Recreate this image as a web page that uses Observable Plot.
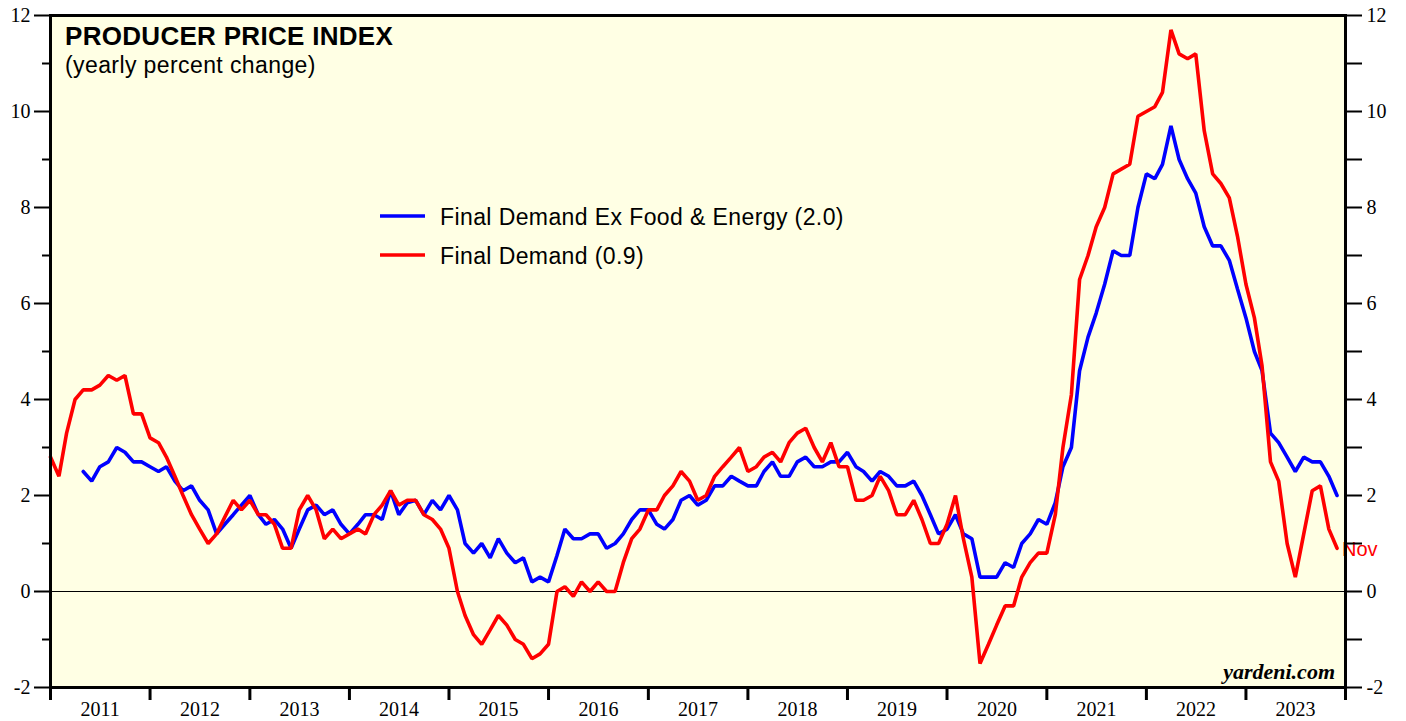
<!DOCTYPE html>
<html><head><meta charset="utf-8">
<script src="https://cdn.jsdelivr.net/npm/d3@7"></script>
<script src="https://cdn.jsdelivr.net/npm/@observablehq/plot@0.6"></script>
<style>body{margin:0;background:#fff;} #chart svg{display:block;}</style>
</head><body><div id="chart"></div>
<script>
// ---- data (yearly percent change, monthly) ----
const finalDemandStart = [2010, 12]; // first month of Final Demand series
const finalDemand = [
  2.8,
  2.4, 3.3, 4.0, 4.2, 4.2, 4.3, 4.5, 4.4, 4.5, 3.7, 3.7, 3.2,
  3.1, 2.8, 2.4, 2.0, 1.6, 1.3, 1.0, 1.2, 1.55, 1.9, 1.7, 1.9,
  1.6, 1.6, 1.4, 0.9, 0.9, 1.7, 2.0, 1.7, 1.1, 1.3, 1.1, 1.2,
  1.3, 1.2, 1.6, 1.8, 2.1, 1.8, 1.9, 1.9, 1.6, 1.5, 1.3, 0.9,
  0.0, -0.5, -0.9, -1.1, -0.8, -0.5, -0.7, -1.0, -1.1, -1.4, -1.3, -1.1,
  0.0, 0.1, -0.1, 0.2, 0.0, 0.2, 0.0, 0.0, 0.6, 1.1, 1.3, 1.7,
  1.7, 2.0, 2.2, 2.5, 2.3, 1.9, 2.0, 2.4, 2.6, 2.8, 3.0, 2.5,
  2.6, 2.8, 2.9, 2.7, 3.1, 3.3, 3.4, 3.0, 2.7, 3.1, 2.6, 2.6,
  1.9, 1.9, 2.0, 2.4, 2.1, 1.6, 1.6, 1.9, 1.5, 1.0, 1.0, 1.4,
  2.0, 1.1, 0.3, -1.5, -1.1, -0.7, -0.3, -0.3, 0.3, 0.6, 0.8, 0.8,
  1.6, 3.0, 4.1, 6.5, 7.0, 7.6, 8.0, 8.7, 8.8, 8.9, 9.9, 10.0,
  10.1, 10.4, 11.7, 11.2, 11.1, 11.2, 9.6, 8.7, 8.5, 8.2, 7.4, 6.4,
  5.7, 4.7, 2.7, 2.3, 1.0, 0.3, 1.2, 2.1, 2.2, 1.3, 0.9
];
const coreStart = [2011, 4]; // first month of Ex Food & Energy series
const finalDemandCore = [
  2.5, 2.3, 2.6, 2.7, 3.0, 2.9, 2.7, 2.7, 2.6,
  2.5, 2.6, 2.3, 2.1, 2.2, 1.9, 1.7, 1.2, 1.4, 1.6, 1.8, 2.0,
  1.6, 1.4, 1.5, 1.3, 0.9, 1.3, 1.7, 1.8, 1.6, 1.7, 1.4, 1.2,
  1.4, 1.6, 1.6, 1.5, 2.1, 1.6, 1.85, 1.9, 1.6, 1.9, 1.7, 2.0,
  1.7, 1.0, 0.8, 1.0, 0.7, 1.1, 0.8, 0.6, 0.7, 0.2, 0.3, 0.2,
  0.75, 1.3, 1.1, 1.1, 1.2, 1.2, 0.9, 1.0, 1.2, 1.5, 1.7, 1.7,
  1.4, 1.3, 1.5, 1.9, 2.0, 1.8, 1.9, 2.2, 2.2, 2.4, 2.3, 2.2,
  2.2, 2.5, 2.7, 2.4, 2.4, 2.7, 2.8, 2.6, 2.6, 2.7, 2.7, 2.9,
  2.6, 2.5, 2.3, 2.5, 2.4, 2.2, 2.2, 2.3, 2.0, 1.6, 1.2, 1.3,
  1.6, 1.2, 1.1, 0.3, 0.3, 0.3, 0.6, 0.5, 1.0, 1.2, 1.5, 1.4,
  1.85, 2.6, 3.0, 4.6, 5.3, 5.8, 6.4, 7.1, 7.0, 7.0, 8.0, 8.7,
  8.6, 8.9, 9.7, 9.0, 8.6, 8.3, 7.6, 7.2, 7.2, 6.9, 6.3, 5.7,
  5.0, 4.6, 3.3, 3.1, 2.8, 2.5, 2.8, 2.7, 2.7, 2.4, 2.0
];
const seriesNames = ["Final Demand Ex Food & Energy (2.0)", "Final Demand (0.9)"];
const seriesColors = ["#0000ff", "#ff0000"];
const years = [2011, 2012, 2013, 2014, 2015, 2016, 2017, 2018, 2019, 2020, 2021, 2022, 2023];
const yMajorTicks = [-2, 0, 2, 4, 6, 8, 10, 12];
const yMinorTicks = [-1, 1, 3, 5, 7, 9, 11];
const lastMonthLabel = "Nov";
const titleText = "PRODUCER PRICE INDEX";
const subtitleText = "(yearly percent change)";
const creditText = "yardeni.com";

// month-end dates (plotted at end of each month)
function toRows(start, values) {
  return values.map((v, i) => ({date: new Date(Date.UTC(start[0], start[1] - 1 + i + 1, 1)), value: v}));
}
const redRows = toRows(finalDemandStart, finalDemand);
const blueRows = toRows(coreStart, finalDemandCore);
const yearStarts = years.concat([years[years.length - 1] + 1]).map(y => new Date(Date.UTC(y, 0, 1)));
const yearMids = years.map(y => new Date(Date.UTC(y, 6, 2)));

const W = 1406, H = 721;
const chart = Plot.plot({
  width: W, height: H,
  marginLeft: 50, marginRight: 61, marginTop: 15, marginBottom: 34,
  style: {background: "white", fontFamily: "'Liberation Serif', 'Times New Roman', serif", fontSize: "20px", color: "black", overflow: "visible"},
  x: {type: "utc", domain: [yearStarts[0], yearStarts[yearStarts.length - 1]]},
  y: {domain: [-2, 12]},
  marks: [
    Plot.frame({fill: "#ffffe4", stroke: null}),
    Plot.ruleY([0], {stroke: "black", strokeWidth: 1.2}),
    Plot.line(blueRows, {x: "date", y: "value", stroke: seriesColors[0], strokeWidth: 3.6, strokeLinejoin: "miter"}),
    Plot.line(redRows, {x: "date", y: "value", stroke: seriesColors[1], strokeWidth: 3.6, strokeLinejoin: "miter"}),
    Plot.text(redRows.slice(-1), {x: "date", y: "value", text: () => lastMonthLabel, fill: seriesColors[1],
      textAnchor: "start", dx: 5, dy: 1, fontFamily: "'Liberation Sans', Arial, sans-serif", fontSize: 20}),
    Plot.axisY({anchor: "left", ticks: yMajorTicks, tickSize: 16, tickPadding: 4, strokeWidth: 2,
      tickFormat: d => String(d), label: null}),
    Plot.axisY({anchor: "left", ticks: yMinorTicks, tickSize: 8, strokeWidth: 2,
      tickFormat: () => "", label: null}),
    Plot.axisY({anchor: "right", ticks: yMajorTicks, tickSize: 16, tickPadding: 5, strokeWidth: 2,
      tickFormat: d => String(d), label: null}),
    Plot.axisY({anchor: "right", ticks: yMinorTicks, tickSize: 16, strokeWidth: 2,
      tickFormat: () => "", label: null}),
    Plot.axisX({ticks: yearStarts, tickSize: 13, strokeWidth: 3, tickFormat: () => "", label: null}),
    Plot.axisX({ticks: yearMids, tickSize: 0, tickPadding: 14, tickFormat: d => String(d.getUTCFullYear()), label: null}),
    Plot.frame({stroke: "black", strokeWidth: 3})
  ]
});

// annotations: title, subtitle, legend, credit
const svg = d3.select(chart);
const ann = svg.append("g").attr("text-anchor", "start");
ann.append("text").text(titleText)
  .attr("x", 65).attr("y", 45).attr("text-anchor", "start")
  .attr("font-family", "'Liberation Sans', Arial, sans-serif").attr("font-weight", "bold")
  .attr("font-size", 26).attr("letter-spacing", 0.3).attr("fill", "black");
ann.append("text").text(subtitleText)
  .attr("x", 65).attr("y", 73).attr("text-anchor", "start")
  .attr("font-family", "'Liberation Sans', Arial, sans-serif")
  .attr("font-size", 23).attr("letter-spacing", 0.4).attr("fill", "black");
const legendY = [216, 255];
seriesNames.forEach((name, i) => {
  ann.append("line").attr("x1", 380).attr("x2", 425).attr("y1", legendY[i]).attr("y2", legendY[i])
    .attr("stroke", seriesColors[i]).attr("stroke-width", 3.4);
  ann.append("text").text(name)
    .attr("x", 440).attr("y", legendY[i] + 9).attr("text-anchor", "start")
    .attr("font-family", "'Liberation Sans', Arial, sans-serif")
    .attr("font-size", 23).attr("letter-spacing", 0.4).attr("fill", "black");
});
ann.append("text").text(creditText)
  .attr("x", 1335).attr("y", 679).attr("text-anchor", "end")
  .attr("font-family", "'Liberation Serif', 'Times New Roman', serif")
  .attr("font-weight", "bold").attr("font-style", "italic")
  .attr("font-size", 22).attr("fill", "black");

document.getElementById("chart").appendChild(chart);
</script>
</body></html>
